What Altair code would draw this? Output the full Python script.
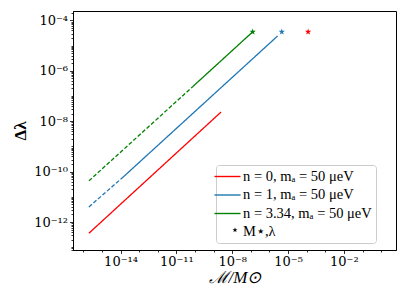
import altair as alt
import pandas as pd

# ---- data ----
series_names = ["n = 0, mₐ = 50 μeV", "n = 1, mₐ = 50 μeV", "n = 3.34, mₐ = 50 μeV", "M⋆,λ"]
series_colors = ["#ff0000", "#1f77b4", "#008000", "transparent"]

line_series = ["n = 0, mₐ = 50 μeV", "n = 0, mₐ = 50 μeV",
               "n = 1, mₐ = 50 μeV", "n = 1, mₐ = 50 μeV",
               "n = 1, mₐ = 50 μeV", "n = 1, mₐ = 50 μeV",
               "n = 3.34, mₐ = 50 μeV", "n = 3.34, mₐ = 50 μeV",
               "n = 3.34, mₐ = 50 μeV", "n = 3.34, mₐ = 50 μeV"]
line_style = ["solid", "solid",
              "dashed", "dashed", "solid", "solid",
              "dashed", "dashed", "solid", "solid"]
line_x = [2.0e-16, 2.5e-9,
          2.0e-16, 1.35e-14, 1.35e-14, 2.75e-6,
          2.0e-16, 7.8e-11, 7.8e-11, 1.26e-7]
line_y = [3.6e-13, 2.3e-8,
          4.0e-12, 6.0e-11, 6.0e-11, 2.4e-5,
          4.3e-11, 2.4e-7, 2.4e-7, 3.5e-5]

star_series = ["n = 0, mₐ = 50 μeV", "n = 1, mₐ = 50 μeV", "n = 3.34, mₐ = 50 μeV"]
star_x = [1.2e-4, 4.6e-6, 1.26e-7]
star_y = [3.5e-5, 3.5e-5, 3.5e-5]

x_major_exp = [-14, -11, -8, -5, -2]
x_major_labels = ["10⁻¹⁴", "10⁻¹¹", "10⁻⁸", "10⁻⁵", "10⁻²"]
y_major_exp = [-4, -6, -8, -10, -12]
y_major_labels = ["10⁻⁴", "10⁻⁶", "10⁻⁸", "10⁻¹⁰", "10⁻¹²"]

x_domain = [2.8e-17, 6.3]
y_domain = [7.8e-14, 2.35e-4]

lines_df = pd.DataFrame({"series": line_series, "style": line_style,
                         "x": line_x, "y": line_y,
                         "seg": [s + st for s, st in zip(line_series, line_style)]})
stars_df = pd.DataFrame({"series": star_series, "x": star_x, "y": star_y})

x_major = [10.0 ** e for e in x_major_exp]
y_major = [10.0 ** e for e in y_major_exp]
x_minor = [10.0 ** n for n in range(-16, 1) if n not in x_major_exp]
y_minor = [k * 10.0 ** n for n in range(-14, -3) for k in range(1, 10)
           if y_domain[0] <= k * 10.0 ** n <= y_domain[1] and not (k == 1 and n in y_major_exp)]

LOG = "round(log(datum.value)/LN10)"


def label_expr(exps, labels):
    expr = "''"
    for e, l in zip(exps, labels):
        expr = f"{LOG} == {e} ? '{l}' : " + expr
    return expr


STAR = ("M0,-1L0.2245,-0.309L0.951,-0.309L0.363,0.118L0.588,0.809L0,0.382"
        "L-0.588,0.809L-0.363,0.118L-0.951,-0.309L-0.2245,-0.309Z")
WIDE_LINE = "M-2,0L2,0"

FONT = "Liberation Serif"
TICK_FONT = "DejaVu Serif"
LEG_X, LEG_Y = 143, 154

color_scale = alt.Scale(domain=series_names, range=series_colors)
xs = alt.Scale(type="log", domain=x_domain, nice=False)
ys = alt.Scale(type="log", domain=y_domain, nice=False)

color_legend = alt.Legend(
    title=None, orient="none", legendX=LEG_X, legendY=LEG_Y,
    fillColor="white", strokeColor="#cccccc", cornerRadius=3, padding=4,
    labelFont=FONT, labelFontSize=14.5, labelColor="black",
    symbolType=WIDE_LINE, symbolSize=170, symbolStrokeWidth=1.4, rowPadding=3.5,
    labelOffset=8,
)

star_legend = alt.Legend(
    title=None, orient="none", legendX=LEG_X + 14, legendY=LEG_Y + 60,
    labelExpr="''", symbolFillColor="black", symbolStrokeColor="black",
    symbolSize=30, symbolStrokeWidth=0,
)

lines = alt.Chart(lines_df).mark_line(strokeWidth=1.3, clip=True).encode(
    x=alt.X("x:Q", scale=xs,
            axis=alt.Axis(values=x_major, labelExpr=label_expr(x_major_exp, x_major_labels),
                          tickSize=3.5, title="ℳ/M⊙", titleFontStyle="italic", titleFontSize=17,
                          titleFontWeight="normal", titlePadding=1,
                          labelFlush=False, labelOverlap=False, orient="bottom")),
    y=alt.Y("y:Q", scale=ys,
            axis=alt.Axis(values=y_major, labelExpr=label_expr(y_major_exp, y_major_labels),
                          tickSize=3.5, title="Δλ", titleFontSize=17, titleFontWeight="bold",
                          titlePadding=4, labelFlush=False, labelOverlap=False, orient="left")),
    color=alt.Color("series:N", scale=color_scale, legend=color_legend),
    strokeDash=alt.StrokeDash("style:N", scale=alt.Scale(domain=["solid", "dashed"], range=[[1, 0], [4, 2]]),
                              legend=None),
    detail="seg:N",
)

stars = alt.Chart(stars_df).transform_calculate(key="'M'").mark_point(
    filled=True, size=45, opacity=1).encode(
    x=alt.X("x:Q", scale=xs,
            axis=alt.Axis(values=x_minor, labels=False, tickSize=2, title=None, domain=False,
                          orient="bottom")),
    y=alt.Y("y:Q", scale=ys,
            axis=alt.Axis(values=y_minor, labels=False, tickSize=2, title=None, domain=False,
                          orient="left")),
    color=alt.Color("series:N", scale=color_scale, legend=None),
    shape=alt.Shape("key:N", scale=alt.Scale(domain=["M"], range=[STAR]), legend=star_legend),
)

chart = alt.layer(lines, stars).resolve_axis(x="independent", y="independent").properties(
    width=323, height=239,
    autosize=alt.AutoSizeParams(type="none"),
    padding={"left": 65, "top": 3, "right": 3, "bottom": 44},
).configure(font=FONT).configure_view(stroke="black", strokeWidth=1).configure_axis(
    grid=False, domainColor="black", domainWidth=1, tickColor="black", tickWidth=0.8,
    labelFont=TICK_FONT, labelFontSize=13, labelColor="black", labelPadding=2,
    titleFont=FONT, titleColor="black",
)

chart.save("out.html", embed_options={"renderer": "svg", "actions": False})
